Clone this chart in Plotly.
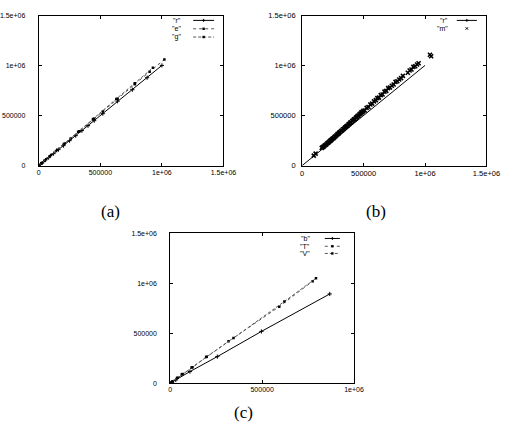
import plotly.graph_objects as go

# ---------------- data ----------------
# panel (a)
r_x = [0, 15000, 40000, 80000, 120000, 160000, 200000, 250000, 300000, 350000,
       400000, 450000, 520000, 640000, 760000, 880000, 1000000]
r_y = [0, 15000, 40000, 80000, 120000, 160000, 200000, 250000, 300000, 350000,
       400000, 450000, 520000, 645000, 760000, 880000, 1003000]
e_x = [0, 20000, 50000, 90000, 140000, 200000, 260000, 330000, 450000, 520000,
       640000, 780000, 900000, 1020000]
e_y = [0, 21000, 52000, 94000, 146000, 208000, 271000, 343000, 470000, 542000,
       670000, 815000, 940000, 1062000]
g_x = [0, 25000, 60000, 100000, 150000, 210000, 320000, 440000, 630000, 780000, 927000]
g_y = [0, 26000, 63000, 106000, 158000, 222000, 338000, 466000, 668000, 825000, 980000]

# panel (b)
m_x = [95000, 110000, 160000, 168000, 175000, 183000, 190000, 198000, 205000, 212000,
       220000, 228000, 235000, 242000, 250000, 258000, 265000, 272000, 280000, 288000,
       295000, 302000, 310000, 318000, 325000, 333000, 340000, 348000, 355000, 362000,
       370000, 378000, 385000, 392000, 400000, 408000, 415000, 422000, 430000, 438000,
       445000, 452000, 460000, 468000, 475000, 482000, 490000, 498000, 510000, 525000,
       540000, 555000, 570000, 585000, 600000, 612000, 625000, 640000, 655000, 670000,
       685000, 700000, 715000, 730000, 745000, 760000, 775000, 790000, 805000, 820000,
       860000, 875000, 890000, 905000, 920000, 935000, 948000, 1040000, 1050000]
m_y = [100000, 120000, 178000, 185000, 190000, 200000, 206000, 213000, 224000, 229000,
       238000, 249000, 253000, 263000, 272000, 278000, 289000, 294000, 304000, 315000,
       318000, 330000, 336000, 347000, 352000, 364000, 368000, 380000, 386000, 395000,
       401000, 414000, 418000, 430000, 434000, 447000, 452000, 463000, 466000, 481000,
       485000, 498000, 501000, 515000, 520000, 533000, 535000, 548000, 552000, 578000,
       587000, 612000, 620000, 643000, 656000, 675000, 680000, 705000, 712000, 740000,
       748000, 776000, 782000, 800000, 812000, 838000, 845000, 862000, 876000, 898000,
       930000, 952000, 962000, 988000, 995000, 1012000, 1025000, 1110000, 1095000]

# panel (c)
b_x = [0, 10000, 30000, 107000, 256000, 496000, 868000]
b_y = [0, 10000, 31000, 115000, 265000, 517000, 892000]
T_x = [0, 10000, 37000, 63000, 116000, 195000, 317000, 593000, 775000]
T_y = [0, 13000, 50000, 88000, 155000, 262000, 418000, 765000, 1020000]
V_x = [0, 12000, 40000, 67000, 121000, 198000, 344000, 621000, 793000]
V_y = [0, 15000, 53000, 91000, 158000, 264000, 450000, 817000, 1049000]

tick_vals = [0, 500000, 1000000, 1500000]
tick_text = ["0", "500000", "1e+06", "1.5e+06"]
captions = ["(a)", "(b)", "(c)"]

# ---------------- figure ----------------
fig = go.Figure()

SOLID = dict(color="black", width=1)
DOT = dict(color="#555", width=1, dash="dot")
DASH = dict(color="#555", width=1, dash="3px,2px")
PLUS = dict(symbol="cross-thin", size=3, color="black", line=dict(color="black", width=1))
SQ = dict(symbol="square", size=2.5, color="black")
MX = dict(symbol="x-thin", size=4, color="black", line=dict(color="black", width=1.6))

series = [
    # (xs, ys, axis suffix, name, mode, line, marker)
    (r_x, r_y, "", '"r"', "lines+markers", SOLID, PLUS),
    (e_x, e_y, "", '"e"', "lines+markers", DOT, SQ),
    (g_x, g_y, "", '"g"', "lines+markers", DASH, SQ),
    (r_x, r_y, "2", '"r"', "lines", SOLID, PLUS),
    (m_x, m_y, "2", '"m"', "markers", None, MX),
    (b_x, b_y, "3", '"b"', "lines+markers", SOLID, PLUS),
    (T_x, T_y, "3", '"T"', "lines+markers", DOT, SQ),
    (V_x, V_y, "3", '"V"', "lines+markers", DASH, SQ),
]
for xs, ys, ax, name, mode, line, marker in series:
    kw = dict(x=xs, y=ys, mode=mode, name=name, showlegend=False,
              xaxis="x" + ax, yaxis="y" + ax, marker=marker)
    if line is not None:
        kw["line"] = line
    fig.add_trace(go.Scatter(**kw))

W, H = 515, 440
panels = {
    "": dict(x=(37, 228), y=(12, 165), xr=1.5e6, tfs=7, stand=11),
    "2": dict(x=(309.3, 500), y=(12, 165), xr=1.5e6, tfs=7.5, stand=4),
    "3": dict(x=(173, 363), y=(234, 387), xr=1.0e6, tfs=7, stand=11),
}
FONT = "Liberation Sans"
axis_common = dict(showline=True, linecolor="black", linewidth=1, mirror="ticks",
                   ticks="inside", ticklen=3, tickcolor="black", showgrid=False,
                   zeroline=False)
layout_axes = {}
for ax, p in panels.items():
    xd = [p["x"][0] / W, p["x"][1] / W]
    yd = [1 - p["y"][1] / H, 1 - p["y"][0] / H]
    nx = 3 if p["xr"] < 1.2e6 else 4
    tf = dict(family=FONT, size=p["tfs"], color="black")
    xa = dict(axis_common, domain=xd, range=[0, p["xr"]], tickvals=tick_vals[:nx],
              ticktext=tick_text[:nx], anchor="y" + ax, tickfont=tf)
    ya = dict(axis_common, domain=yd, range=[0, 1.5e6], tickvals=tick_vals,
              ticktext=tick_text, anchor="x" + ax, ticklabelstandoff=p["stand"],
              tickfont=tf)
    layout_axes["xaxis" + ax] = xa
    layout_axes["yaxis" + ax] = ya

# gnuplot-style legends (text left, sample right), drawn as annotations/shapes
legends = [
    ("", 0.78, (0.836, 0.949), [0.969, 0.913, 0.858],
     [('"r"', SOLID, "plus"), ('"e"', DOT, "sq"), ('"g"', DASH, "sq")]),
    ("2", 0.803, (0.839, 0.948), [0.969, 0.915],
     [('"r"', SOLID, "plus"), ('"m"', None, "x")]),
    ("3", 0.771, (0.841, 0.923), [0.965, 0.913, 0.865],
     [('"b"', SOLID, "plus"), ('"T"', DOT, "sq"), ('"V"', DASH, "sq")]),
]
annotations = []
shapes = []
for ax, tx, (lx0, lx1), rows, items in legends:
    xref = "x" + ax + " domain"
    yref = "y" + ax + " domain"
    for (label, line, mk), yy in zip(items, rows):
        annotations.append(dict(text=label, x=tx, y=yy, xref=xref, yref=yref,
                                xanchor="right", yanchor="middle", showarrow=False,
                                font=dict(family=FONT, size=7, color="black")))
        if line is not None:
            shapes.append(dict(type="line", xref=xref, yref=yref, x0=lx0, x1=lx1,
                               y0=yy, y1=yy, line=line))
        xm = (lx0 + lx1) / 2
        pix = dict(type="line", xref=xref, yref=yref, xsizemode="pixel",
                   ysizemode="pixel", xanchor=xm, yanchor=yy,
                   line=dict(color="black", width=1))
        if mk == "sq":
            shapes.append(dict(type="rect", xref=xref, yref=yref, xsizemode="pixel",
                               ysizemode="pixel", xanchor=xm, yanchor=yy, x0=-1.2, x1=1.2,
                               y0=-1.2, y1=1.2, fillcolor="black", line=dict(width=0)))
        elif mk == "plus":
            shapes.append(dict(pix, x0=-1.5, x1=1.5, y0=0, y1=0))
            shapes.append(dict(pix, x0=0, x1=0, y0=-1.5, y1=1.5))
        else:
            shapes.append(dict(pix, x0=-1.2, x1=1.2, y0=-1.2, y1=1.2))
            shapes.append(dict(pix, x0=-1.2, x1=1.2, y0=1.2, y1=-1.2))

# captions under each panel
cap_pos = [(111, 212), (386, 212), (249, 417)]
for text, (cx, cy) in zip(captions, cap_pos):
    annotations.append(dict(text=text, x=cx / W, y=1 - cy / H, xref="paper", yref="paper",
                            xanchor="center", yanchor="middle", showarrow=False,
                            font=dict(family="Liberation Serif", size=17, color="black")))

fig.update_layout(
    width=W, height=H, margin=dict(l=0, r=0, t=0, b=0),
    paper_bgcolor="white", plot_bgcolor="white", showlegend=False,
    annotations=annotations, shapes=shapes, **layout_axes,
)

fig.write_html("out.html")
